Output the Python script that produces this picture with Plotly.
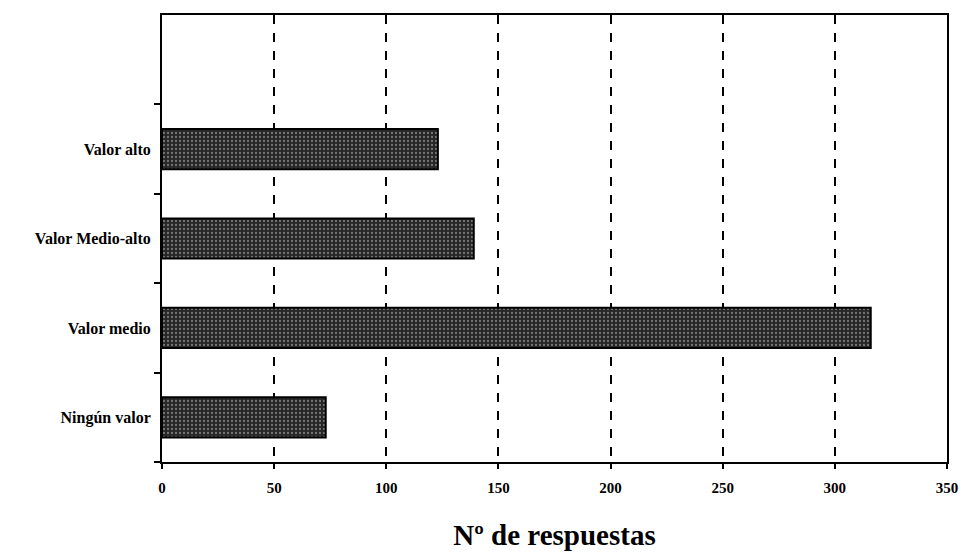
import plotly.graph_objects as go

# data
categories = ["Ningún valor", "Valor medio", "Valor Medio-alto", "Valor alto"]
responses = [73, 316, 139, 123]
x_ticks = [0, 50, 100, 150, 200, 250, 300, 350]

serif = "Liberation Serif"

fig = go.Figure(
    go.Bar(
        x=responses,
        y=categories,
        orientation="h",
        width=0.45,
        marker=dict(
            color="#262626",
            line=dict(color="black", width=2),
            pattern=dict(shape=".", fgcolor="#c8c8c8", size=4, solidity=0.25),
        ),
        showlegend=False,
    )
)

# page body adds an 8px offset, so sizes are trimmed to land on the reference
fig.update_layout(
    width=961,
    height=546,
    margin=dict(l=154, r=22, t=5, b=92),
    paper_bgcolor="white",
    plot_bgcolor="white",
    font=dict(family=serif, color="black"),
    xaxis=dict(
        range=[0, 350],
        tickvals=x_ticks,
        ticktext=[f"<b>{v}</b>" for v in x_ticks],
        tickfont=dict(family=serif, size=15),
        ticks="outside",
        ticklen=5,
        tickwidth=2,
        tickcolor="black",
        ticklabelstandoff=6,
        showline=True,
        linecolor="black",
        linewidth=2,
        mirror=True,
        showgrid=True,
        gridcolor="black",
        gridwidth=2,
        griddash="dash",
        zeroline=False,
        title=dict(text="<b>Nº de respuestas</b>",
                   font=dict(family=serif, size=29), standoff=30),
    ),
    yaxis=dict(
        type="category",
        categoryorder="array",
        categoryarray=categories + [" "],
        range=[-0.5, 4.5],
        tickvals=categories,
        ticktext=[f"<b>{c}</b>" for c in categories],
        tickfont=dict(family=serif, size=16),
        tickson="boundaries",
        ticks="outside",
        ticklen=6,
        tickwidth=2,
        tickcolor="black",
        ticklabelstandoff=6,
        showline=True,
        linecolor="black",
        linewidth=2,
        mirror=True,
        showgrid=False,
        zeroline=False,
    ),
)

fig.write_html("out.html")
